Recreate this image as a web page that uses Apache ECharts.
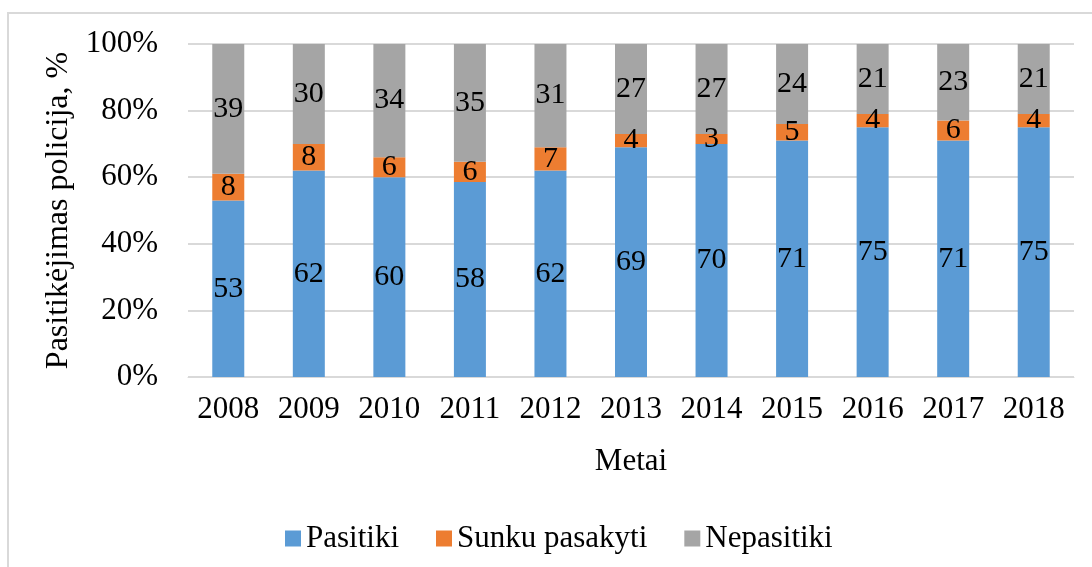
<!DOCTYPE html>
<html>
<head>
<meta charset="utf-8">
<script src="https://cdn.jsdelivr.net/npm/echarts@6/dist/echarts.min.js"></script>
<style>
html,body{margin:0;padding:0;background:#fff;}
#chart{width:1092px;height:567px;}
</style>
</head>
<body>
<div id="chart"></div>
<script>
var years = ['2008','2009','2010','2011','2012','2013','2014','2015','2016','2017','2018'];
var pasitiki = [53,62,60,58,62,69,70,71,75,71,75];
var sunku = [8,8,6,6,7,4,3,5,4,6,4];
var nepasitiki = [39,30,34,35,31,27,27,24,21,23,21];
var seriesNames = ['Pasitiki','Sunku pasakyti','Nepasitiki'];
var colors = ['#5B9BD5','#ED7D31','#A5A5A5'];
var yTicks = [0,20,40,60,80,100];

var raw = [pasitiki, sunku, nepasitiki];
var totals = years.map(function(_, i){ return pasitiki[i] + sunku[i] + nepasitiki[i]; });
var FONT = 'Liberation Serif';

var chart = echarts.init(document.getElementById('chart'));
var series = raw.map(function(arr, s){
  return {
    name: seriesNames[s],
    type: 'bar',
    stack: 'total',
    barWidth: 32,
    itemStyle: {color: colors[s]},
    label: {
      show: true,
      position: 'inside',
      color: '#000',
      fontFamily: FONT,
      fontSize: 30,
      textBorderWidth: 0,
      formatter: function(p){ return String(raw[s][p.dataIndex]); }
    },
    data: arr.map(function(v, i){ return v / totals[i] * 100; })
  };
});

chart.setOption({
  animation: false,
  textStyle: {fontFamily: FONT},
  graphic: [{
    type: 'rect',
    shape: {x: 8, y: 13, width: 1200, height: 700},
    style: {fill: 'none', stroke: '#d9d9d9', lineWidth: 2},
    silent: true
  }],
  grid: {left: 188, right: 18, top: 44, bottom: 190},
  legend: {
    left: 280, top: 518,
    itemWidth: 16, itemHeight: 16, itemGap: 37,
    icon: 'rect',
    textStyle: {fontFamily: FONT, fontSize: 31, color: '#000'},
    data: seriesNames
  },
  xAxis: {
    type: 'category',
    data: years,
    name: 'Metai',
    nameLocation: 'middle',
    nameGap: 69,
    nameTextStyle: {fontFamily: FONT, fontSize: 31, color: '#000'},
    axisLine: {show: true, lineStyle: {color: '#d9d9d9', width: 1}},
    axisTick: {show: false},
    axisLabel: {fontFamily: FONT, fontSize: 31, color: '#000', margin: 17, interval: 0, hideOverlap: false}
  },
  yAxis: {
    type: 'value',
    min: yTicks[0], max: yTicks[yTicks.length-1], interval: 20,
    name: 'Pasitikėjimas policija, %',
    nameLocation: 'middle',
    nameGap: 108,
    nameTextStyle: {fontFamily: FONT, fontSize: 32, color: '#000'},
    axisLine: {show: false},
    axisTick: {show: false},
    splitLine: {lineStyle: {color: '#d9d9d9', width: 2}},
    axisLabel: {fontFamily: FONT, fontSize: 31, color: '#000', margin: 30, formatter: '{value}%'}
  },
  series: series
});
</script>
</body>
</html>
